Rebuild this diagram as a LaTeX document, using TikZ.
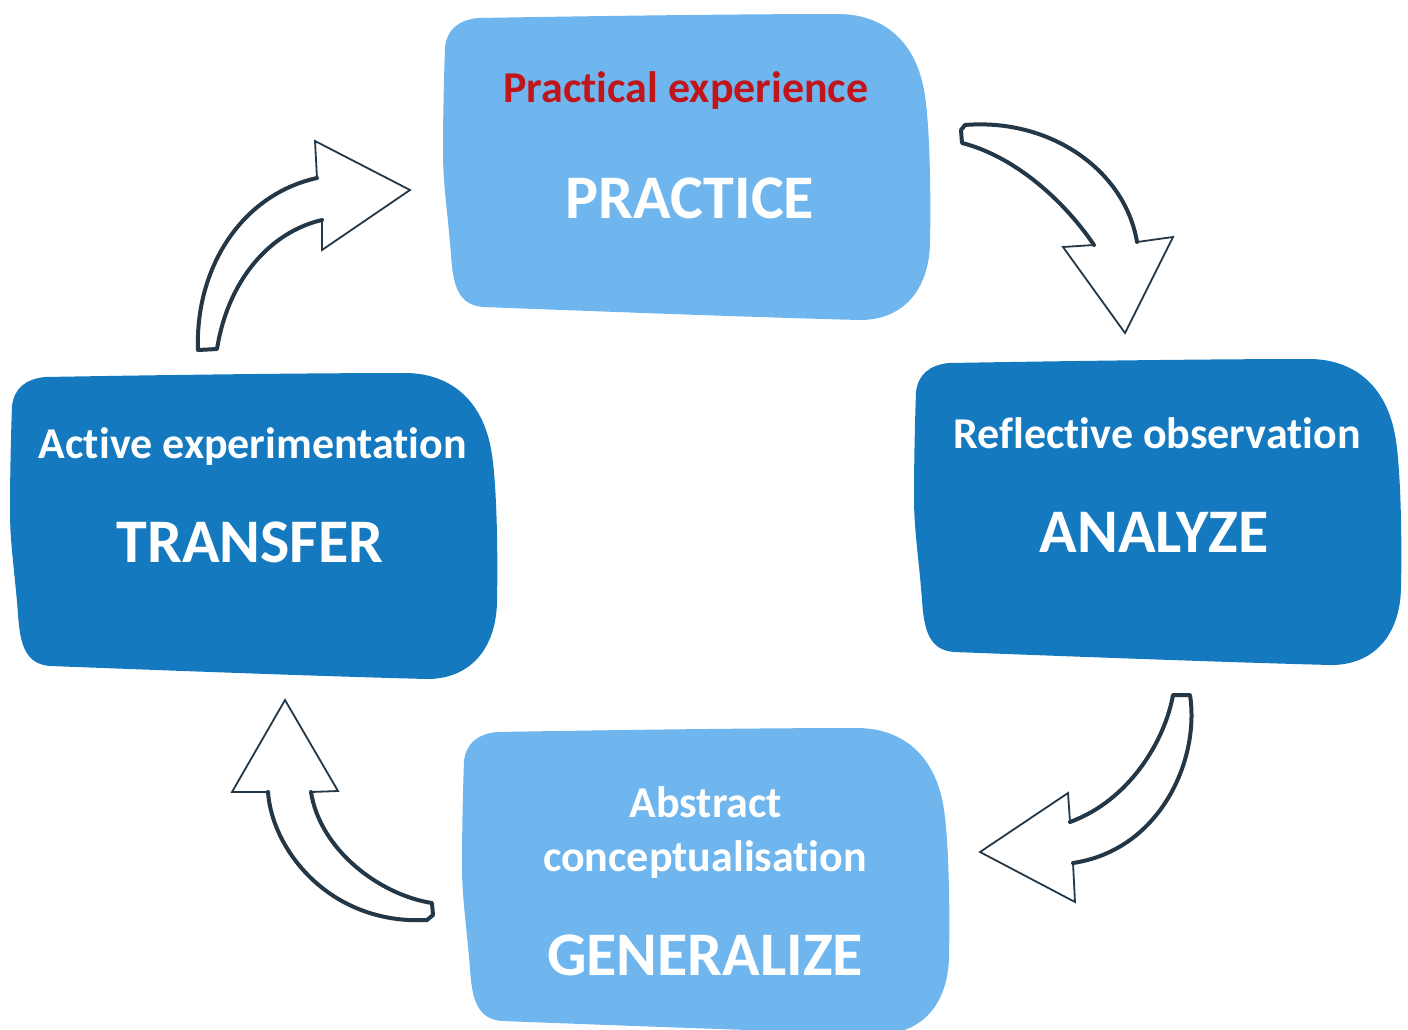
\documentclass[tikz,border=0pt]{standalone}
\usepackage{fontspec}
\setmainfont{Carlito}[Ligatures=NoCommon]
\usepackage{tikz}
\usetikzlibrary{positioning}

\definecolor{paleblue}{RGB}{111,182,238}
\definecolor{deepblue}{RGB}{20,121,190}
\definecolor{inkred}{RGB}{192,22,27}
\definecolor{inkline}{RGB}{35,55,70}

% wobbly rounded card, 487 x 307, top left corner at the pic origin
\tikzset{card/.pic={
	\fill[pic actions] (2,32) .. controls (4,15) and (15,5) .. (35,3)
		.. controls (150,1) and (300,-1) .. (397,-1)
		.. controls (440,0) and (470,25) .. (480,70)
		.. controls (487,100) and (488,180) .. (487,228)
		.. controls (486,275) and (460,305) .. (417,305)
		.. controls (300,302) and (120,295) .. (40,292)
		.. controls (15,290) and (10,270) .. (8,240)
		.. controls (5,200) and (0,170) .. (0,138)
		.. controls (0,100) and (1,60) .. (2,32) -- cycle;
}}

\begin{document}
\begin{tikzpicture}[x=1pt, y=-1pt]
		\tikzstyle{Title}	= [anchor=base, text=white, font=\bfseries\fontsize{62}{62}\selectfont, inner sep=0pt]
		\tikzstyle{Sub}		= [anchor=base, text=white, font=\bfseries\fontsize{44}{44}\selectfont, inner sep=0pt]
		\tikzstyle{Shaft}	= [draw=inkline, line width=4, line join=round, line cap=round]
		\tikzstyle{Head}	= [draw=inkline, line width=1.8, line join=miter]

		\useasboundingbox (0,0) rectangle (1408,1029);

		% the four cards
		\pic[fill=paleblue] at (443,15)  {card};
		\pic[fill=deepblue] at (914,360) {card};
		\pic[fill=paleblue] at (462,729) {card};
		\pic[fill=deepblue] at (10,374)  {card};

		\node (practice-sub)  at (686,102) [Sub, text=inkred] {Practical experience};
		\node (practice)      at (690,218) [Title] {PRACTICE};
		\node (analyze-sub)   at (1157,448) [Sub] {Reflective observation};
		\node (analyze)       at (1154,552) [Title] {ANALYZE};
		\node (generalize-a)  at (706,817) [Sub] {Abstract};
		\node (generalize-b)  at (705,871) [Sub] {conceptualisation};
		\node (generalize)    at (705,975) [Title] {GENERALIZE};
		\node (transfer-sub)  at (253,458) [Sub] {Active experimentation};
		\node (transfer)      at (250,562) [Title] {TRANSFER};

		% transfer -> practice
		\draw[Shaft] (322,220) .. controls (270,232) and (228,280) .. (217,349) -- (198,350)
			.. controls (195,270) and (240,195) .. (317,178);
		\draw[Head] (317,178) -- (315,141) -- (410,190) -- (322,250) -- (322,220);

		% practice -> analyze
		\draw[Shaft] (1094,245) .. controls (1060,195) and (1010,155) .. (962,143) -- (961,130) -- (965,125)
			.. controls (1050,118) and (1125,170) .. (1137,242);
		\draw[Head] (1137,242) -- (1173,237) -- (1125,333) -- (1063,247) -- (1094,245);

		% analyze -> generalize
		\draw[Shaft] (1070,822) .. controls (1130,800) and (1165,740) .. (1173,695) -- (1190,695)
			.. controls (1200,760) and (1160,850) .. (1073,863);
		\draw[Head] (1073,863) -- (1075,902) -- (980,852) -- (1068,793) -- (1070,822);

		% generalize -> transfer
		\draw[Shaft] (311,792) .. controls (320,850) and (380,895) .. (432,903) -- (433,915) -- (427,920)
			.. controls (330,925) and (272,850) .. (268,792);
		\draw[Head] (268,792) -- (232,792) -- (285,700) -- (338,791) -- (311,792);
	\end{tikzpicture}
\end{document}
